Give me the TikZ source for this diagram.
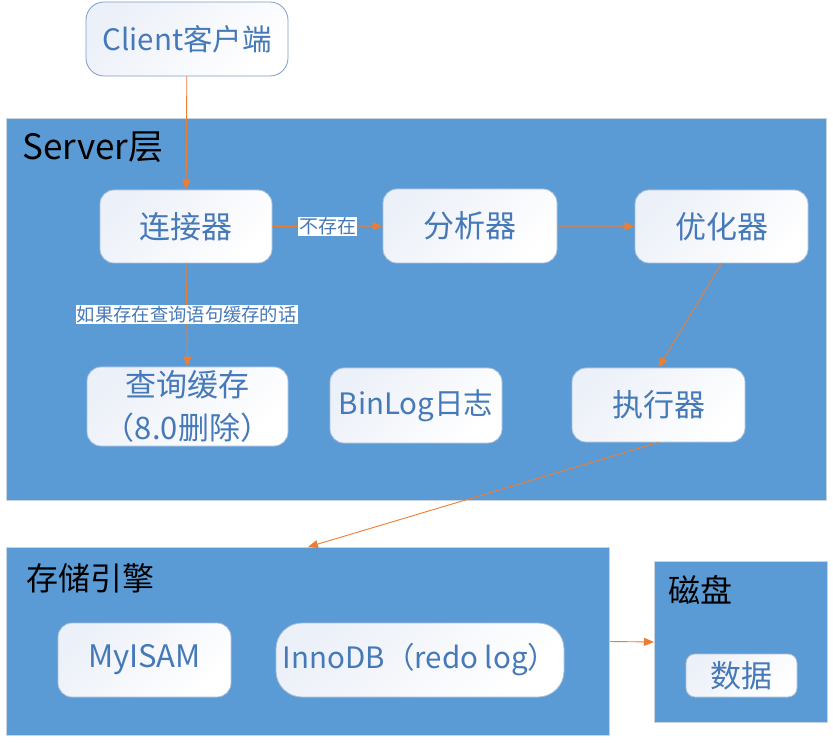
\documentclass[tikz,border=0pt]{standalone}
\usepackage{fontspec}
\setmainfont{Noto Sans CJK SC}
\usetikzlibrary{arrows.meta}
\definecolor{srv}{HTML}{5B9BD5}
\definecolor{arr}{HTML}{ED7D31}
\definecolor{txt}{HTML}{4679B8}
\definecolor{bdr}{HTML}{A9BFDB}
\definecolor{cbdr}{HTML}{7C9CCB}
\definecolor{shd}{HTML}{ECF0F8}
\definecolor{frame}{HTML}{C8D4E2}
\begin{document}
\begin{tikzpicture}[x=1pt,y=-1pt,
  layer/.style={draw=frame, fill=srv, line width=1pt, inner sep=0pt},
  comp/.style={draw=bdr, rounded corners=14pt, top color=shd, bottom color=white, shading angle=45,
    text=txt, font=\fontsize{31}{43}\selectfont, inner sep=0pt, line width=0.8pt, align=center},
  latin/.style={font=\fontsize{29.5}{40}\selectfont},
  ttl/.style={anchor=west, font=\fontsize{32}{36}\selectfont, text=black, inner sep=0pt},
  flow/.style={draw=arr, line width=0.9pt, -{Triangle[length=10pt,width=8pt]}},
  tag/.style={fill=white, text=txt, font=\fontsize{19}{21}\selectfont, inner sep=1pt}
]
\useasboundingbox (0,0) rectangle (833,743);

% layers
\node[layer, minimum width=820pt, minimum height=382pt, anchor=north west] (server) at (6,118) {};
\node[layer, minimum width=603pt, minimum height=188pt, anchor=north west] (engine) at (6,547) {};
\node[layer, minimum width=173pt, minimum height=161pt, anchor=north west] (disk) at (654,561) {};

\node[ttl, font=\fontsize{35}{38}\selectfont] (servert) at (22,147) {Server层};
\node[ttl] (enginet) at (26,578) {存储引擎};
\node[ttl] (diskt) at (668,590) {磁盘};

% components
\node[comp, latin, draw=cbdr, rounded corners=18pt, minimum width=202pt, minimum height=74pt] (client) at (187,39) {Client客户端};
\node[comp, minimum width=172pt, minimum height=73pt] (conn) at (186,226.5) {连接器};
\node[comp, minimum width=174pt, minimum height=74pt] (anal) at (470,226) {分析器};
\node[comp, minimum width=173pt, minimum height=73pt] (opt) at (721.5,226.5) {优化器};
\node[comp, minimum width=201pt, minimum height=79pt] (cache) at (187.5,406.5) {查询缓存\\（8.0删除）};
\node[comp, latin, minimum width=172pt, minimum height=75pt] (binlog) at (416,405.5) {BinLog日志};
\node[comp, minimum width=173pt, minimum height=74pt] (exec) at (658.5,405) {执行器};
\node[comp, minimum width=173pt, minimum height=74pt] (myisam) at (144.5,660) {MyISAM};
\node[comp, latin, rounded corners=26pt, minimum width=288pt, minimum height=74pt] (innodb) at (420,660) {InnoDB（redo log）};
\node[comp, rounded corners=9pt, minimum width=111pt, minimum height=43pt] (data) at (741.5,675.5) {数据};

% connectors
\draw[flow] (client) -- (conn);
\draw[flow] (conn) -- node[tag] {不存在} (anal);
\draw[flow] (anal) -- (opt);
\draw[flow] (opt.south) -- (exec.north);
\draw[flow] (conn.south) -- node[tag, font=\fontsize{18.3}{21}\selectfont] {如果存在查询语句缓存的话} (cache.north);
\draw[flow] (exec.south) -- (engine.north);
\draw[flow] (engine.east) -- (disk.west);
\end{tikzpicture}
\end{document}
